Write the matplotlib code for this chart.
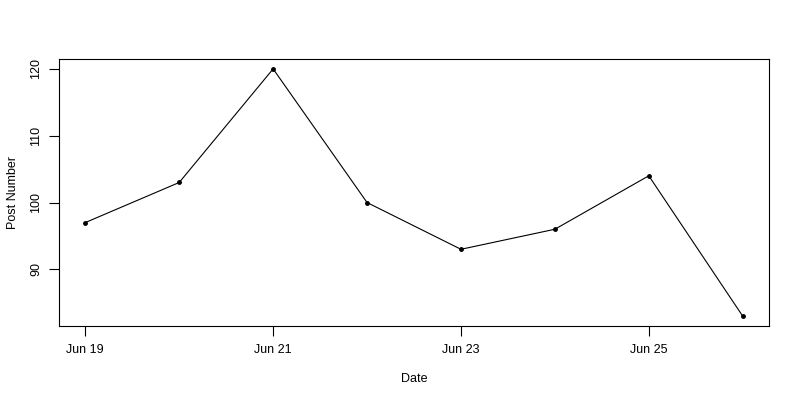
import datetime as dt
import matplotlib
matplotlib.use("Agg")
import matplotlib.pyplot as plt
import matplotlib.dates as mdates

# posts per day
dates = [dt.date(2015, 6, d) for d in range(19, 27)]
posts = [97, 103, 120, 100, 93, 96, 104, 83]
tick_dates = [dt.date(2015, 6, d) for d in (19, 21, 23, 25)]
y_ticks = [90, 100, 110, 120]

plt.rcParams['font.family'] = ['Liberation Sans', 'DejaVu Sans']

fig = plt.figure(figsize=(8, 4), dpi=100)
ax = fig.add_axes([0.07375, 0.185, 0.8875, 0.6675])

ax.plot(dates, posts, color='black', lw=0.8, marker='o', ms=2.5)

# R style 4% padding
x0, x1 = mdates.date2num(dates[0]), mdates.date2num(dates[-1])
pad = (x1 - x0) * 0.04
ax.set_xlim(x0 - pad, x1 + pad)
lo, hi = min(posts), max(posts)
ypad = (hi - lo) * 0.04
ax.set_ylim(lo - ypad, hi + ypad)

ax.set_xticks(tick_dates)
ax.xaxis.set_major_formatter(mdates.DateFormatter('%b %d'))
ax.set_yticks(y_ticks)
for lab in ax.get_yticklabels():
    lab.set_rotation(90)
    lab.set_va('center')

ax.tick_params(direction='out', length=7, width=0.8, labelsize=9, pad=6)
ax.tick_params(axis='y', pad=5)
for s in ax.spines.values():
    s.set_linewidth(0.8)

ax.set_xlabel('Date', fontsize=9, labelpad=12)
ax.set_ylabel('Post Number', fontsize=9, labelpad=8)

fig.savefig('out.png', dpi=100)
